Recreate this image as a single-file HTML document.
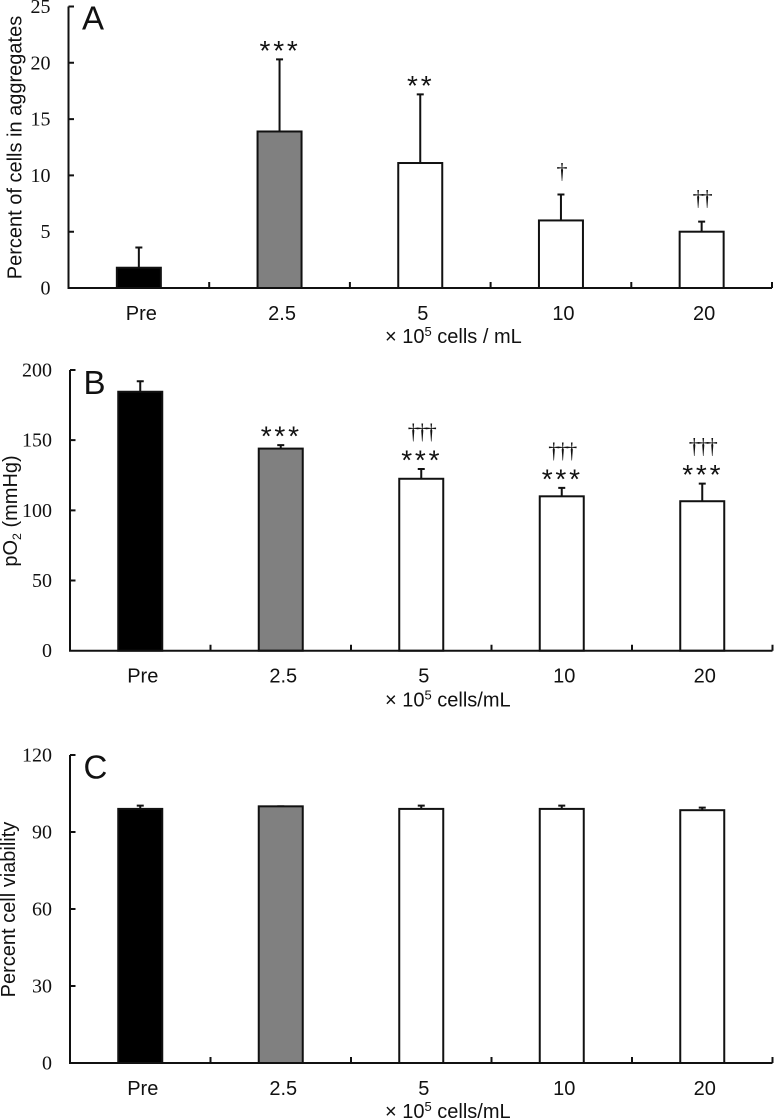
<!DOCTYPE html>
<html lang="en">
<head>
<meta charset="utf-8">
<title>Cell aggregation, pO2 and viability bar charts</title>
<style>
html,body{margin:0;padding:0;background:#fff}
svg{display:block}
.serif{font-family:"Liberation Serif",serif}
.sans{font-family:"Liberation Sans",sans-serif}
text{fill:#111}
</style>
</head>
<body>
<svg id="figure" width="774" height="1119" viewBox="0 0 774 1119" xmlns="http://www.w3.org/2000/svg"></svg>
<script>
const categories = ['Pre', '2.5', '5', '10', '20'];
const barFills = ['#000000', '#808080', '#ffffff', '#ffffff', '#ffffff'];

const aggregateMeans = [1.8, 13.9, 11.1, 6.0, 5.0];
const aggregateErrorTops = [3.6, 20.3, 17.2, 8.3, 5.9];
const aggregateTicks = [0, 5, 10, 15, 20, 25];
const aggregateStars = ['', '***', '**', '', ''];
const aggregateDaggers = ['', '', '', '†', '††'];

const po2Means = [184.5, 144, 122.5, 110, 106.5];
const po2ErrorTops = [192, 146.5, 129.5, 116, 119];
const po2Ticks = [0, 50, 100, 150, 200];
const po2Stars = ['', '***', '***', '***', '***'];
const po2Daggers = ['', '', '†††', '†††', '†††'];

const viabilityMeans = [99, 100, 99, 99, 98.5];
const viabilityErrorTops = [100.3, 100, 100.3, 100.3, 99.5];
const viabilityTicks = [0, 30, 60, 90, 120];
const viabilityStars = ['', '', '', '', ''];
const viabilityDaggers = ['', '', '', '', ''];

const NS = 'http://www.w3.org/2000/svg';
const root = document.getElementById('figure');

function make(tag, parent, props) {
  const node = document.createElementNS(NS, tag);
  for (const k in props) node.setAttribute(k, props[k]);
  parent.appendChild(node);
  return node;
}

function drawPanel(cfg) {
  const band = (cfg.right - cfg.left) / cfg.categories.length;
  const maxV = cfg.ticks[cfg.ticks.length - 1];
  const xMid = i => cfg.left + band * (i + 0.5);
  const y = v => cfg.bottom - (v / maxV) * (cfg.bottom - cfg.top);

  const g = make('g', root, {});
  
  

  // error bars (behind the bars)
  cfg.categories.forEach((c, i) => {
    const eb = make('path', g, {
      d: `M${xMid(i)} ${y(cfg.means[i])}V${y(cfg.errs[i])}M${xMid(i) - 3.5} ${y(cfg.errs[i])}H${xMid(i) + 3.5}`,
      stroke: '#111', 'stroke-width': 2, fill: 'none'
    });
    
    
  });

  // bars
  cfg.categories.forEach((c, i) => {
    const bar = make('rect', g, {
      x: xMid(i) - 22, y: y(cfg.means[i]), width: 44, height: cfg.bottom - y(cfg.means[i]),
      fill: barFills[i], stroke: '#111', 'stroke-width': 2
    });
    
    
  });

  // axes
  let d = `M${cfg.left} ${cfg.top}V${cfg.bottom}H${cfg.right}`;
  cfg.ticks.forEach(t => { d += `M${cfg.left} ${y(t)}h5.5`; });
  for (let i = 1; i <= cfg.categories.length; i++) {
    d += `M${cfg.left + band * i} ${cfg.bottom}v-6`;
  }
  const axes = make('path', g, { d: d, stroke: '#111', 'stroke-width': 2, fill: 'none' });
  
  

  // y tick labels
  cfg.ticks.forEach(t => {
    const lab = make('text', g, {
      x: cfg.left - 18, y: y(t) + 6.5, 'text-anchor': 'end', class: 'serif', 'font-size': 20
    });
    lab.textContent = t;
    
    
  });

  // category labels
  cfg.categories.forEach((c, i) => {
    const lab = make('text', g, {
      x: xMid(i) + 2.5, y: cfg.bottom + 32, 'text-anchor': 'middle', class: 'sans', 'font-size': 20
    });
    lab.textContent = c;
    
    
  });

  // significance marks
  cfg.categories.forEach((c, i) => {
    const errY = y(cfg.errs[i]);
    if (cfg.stars[i]) {
      const s = make('text', g, {
        x: xMid(i) + 0.5, y: errY + 0.5, 'text-anchor': 'middle', class: 'sans',
        'font-size': 28, 'letter-spacing': 2.8
      });
      s.textContent = cfg.stars[i];
      
      
    }
    if (cfg.daggers[i]) {
      const gap = cfg.stars[i] ? 30 : 16;
      const t = make('text', g, {
        x: xMid(i), y: errY - gap, 'text-anchor': 'middle', class: 'serif',
        'font-size': 22, 'letter-spacing': -2
      });
      t.textContent = cfg.daggers[i];
      
      
    }
  });

  // panel letter
  const letter = make('text', g, {
    x: cfg.left + 13.5, y: cfg.letterY, class: 'sans', 'font-size': 33
  });
  letter.textContent = cfg.letter;
  
  

  // y axis title
  const yt = make('text', g, {
    transform: `translate(${cfg.yTitleX} ${cfg.yTitleY}) rotate(-90)`, 'text-anchor': 'middle',
    class: 'sans', 'font-size': cfg.yTitleSize
  });
  
  
  if (cfg.yTitleSub) {
    yt.appendChild(document.createTextNode(cfg.yTitle[0]));
    const sub = make('tspan', yt, { 'font-size': cfg.yTitleSize * 0.62, dy: 4 });
    sub.textContent = cfg.yTitleSub;
    const rest = make('tspan', yt, { dy: -4 });
    rest.textContent = cfg.yTitle[1];
  } else {
    yt.textContent = cfg.yTitle;
  }

  // x axis title
  const xt = make('text', g, { x: 385, y: cfg.xTitleY, class: 'sans', 'font-size': 20 });
  
  
  xt.appendChild(document.createTextNode('× 10'));
  const sup = make('tspan', xt, { 'font-size': 13, dy: -7 });
  sup.textContent = '5';
  const rest = make('tspan', xt, { dy: 7 });
  rest.textContent = cfg.xUnit;
}

drawPanel({
  letter: 'A', letterY: 29.5, left: 68.5, right: 772, top: 6.5, bottom: 288,
  categories: categories, means: aggregateMeans, errs: aggregateErrorTops, ticks: aggregateTicks,
  stars: aggregateStars, daggers: aggregateDaggers,
  yTitle: 'Percent of cells in aggregates', yTitleX: 21.5, yTitleY: 147.5, yTitleSize: 20,
  xTitleY: 343, xUnit: ' cells / mL'
});
drawPanel({
  letter: 'B', letterY: 394, left: 70, right: 772.5, top: 370, bottom: 650.7,
  categories: categories, means: po2Means, errs: po2ErrorTops, ticks: po2Ticks,
  stars: po2Stars, daggers: po2Daggers,
  yTitle: ['pO', ' (mmHg)'], yTitleSub: '2', yTitleX: 17, yTitleY: 511, yTitleSize: 20,
  xTitleY: 706.5, xUnit: ' cells/mL'
});
drawPanel({
  letter: 'C', letterY: 778.5, left: 70, right: 772.5, top: 755, bottom: 1063,
  categories: categories, means: viabilityMeans, errs: viabilityErrorTops, ticks: viabilityTicks,
  stars: viabilityStars, daggers: viabilityDaggers,
  yTitle: 'Percent cell viability', yTitleX: 15, yTitleY: 909.5, yTitleSize: 20,
  xTitleY: 1118, xUnit: ' cells/mL'
});
</script>
</body>
</html>
